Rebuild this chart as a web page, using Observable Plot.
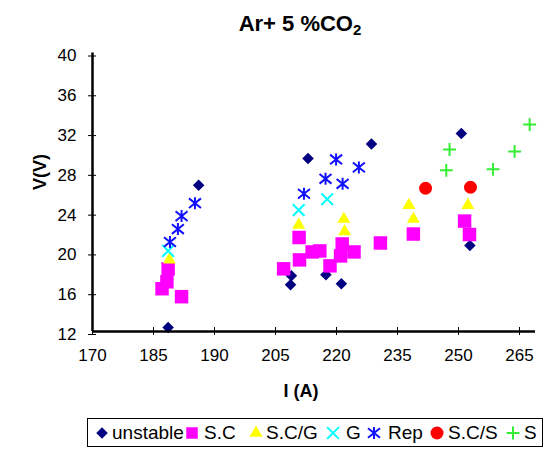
<!DOCTYPE html>
<html>
<head>
<meta charset="utf-8">
<script src="https://cdn.jsdelivr.net/npm/d3@7"></script>
<script src="https://cdn.jsdelivr.net/npm/@observablehq/plot@0.6"></script>
<style>
  html, body { margin: 0; padding: 0; background: #fff; }
  #chart { position: relative; width: 549px; height: 451px; font-family: "Liberation Sans", Arial, sans-serif; color: #000; }
  #title { position: absolute; left: 0; top: 11px; width: 600px; text-align: center; font-weight: bold; font-size: 22px; }
  #plot { position: absolute; left: 0; top: 40px; }
  #ylab { position: absolute; left: 40px; top: 172px; font-weight: bold; font-size: 18px; transform: translate(-50%, -50%) rotate(-90deg); white-space: nowrap; }
  #xlab { position: absolute; left: 301px; top: 381px; font-weight: bold; font-size: 18px; transform: translateX(-50%); white-space: nowrap; }
  #legend { position: absolute; left: 87px; top: 418px; width: 456px; height: 29px; border: 1px solid #000; box-sizing: border-box; }
  .li { position: absolute; top: 0; height: 27px; line-height: 27px; font-size: 19px; white-space: nowrap; }
  .ls { position: absolute; top: 6px; }
</style>
</head>
<body>
<div id="chart">
  <div id="title">Ar+ 5 %CO<sub style="font-size:15px;vertical-align:-4px">2</sub></div>
  <div id="plot"></div>
  <div id="ylab">V(V)</div>
  <div id="xlab">I (A)</div>
  <div id="legend"></div>
</div>
<script>
// ---- data (I in A, V in V) ----
const xTicks = [170, 185, 190, 205, 220, 235, 250, 265];
const yTicks = [12, 16, 20, 24, 28, 32, 36, 40];

const unstableI = [188.7, 186.2, 213.0, 228.6, 208.9, 208.7, 217.4, 221.2, 250.7, 252.8];
const unstableV = [26.7, 12.4, 29.4, 30.85, 17.6, 16.7, 17.7, 16.8, 31.9, 20.65];

const scI = [186.2, 186.1, 185.7, 187.3, 210.8, 210.9, 207.0, 214.0, 215.9, 218.4, 221.4, 221.0, 224.3, 230.8, 238.9, 251.5, 252.7];
const scV = [18.3, 17.0, 16.3, 15.5, 21.45, 19.2, 18.3, 20.0, 20.1, 18.6, 20.8, 19.6, 20.0, 20.9, 21.8, 23.1, 21.75];

const scgI = [186.3, 210.7, 221.8, 222.0, 237.8, 238.9, 252.3];
const scgV = [19.2, 22.7, 23.3, 22.05, 24.7, 23.3, 24.7];

const gI = [186.2, 210.7, 217.7];
const gV = [20.1, 24.2, 25.3];

const repI = [188.4, 187.3, 187.0, 186.35, 219.9, 225.5, 217.3, 221.5, 212.0];
const repV = [24.9, 23.6, 22.3, 21.0, 29.3, 28.5, 27.35, 26.85, 25.85];

const scsI = [241.9, 252.95];
const scsV = [26.4, 26.5];

const sI = [247.8, 247.0, 258.5, 263.8, 267.5];
const sV = [30.3, 28.2, 28.3, 30.1, 32.8];

const seriesNames = ["unstable", "S.C", "S.C/G", "G", "Rep", "S.C/S", "S"];

// ---- build table ----
const zip = (I, V, name) => I.map((x, i) => ({I: x, V: V[i], series: name}));
const groups = [
  zip(unstableI, unstableV, "unstable"),
  zip(scI, scV, "S.C"),
  zip(scgI, scgV, "S.C/G"),
  zip(gI, gV, "G"),
  zip(repI, repV, "Rep"),
  zip(scsI, scsV, "S.C/S"),
  zip(sI, sV, "S")
];

// custom asterisk (vertical bar + X)
const asteriskX = {
  draw(ctx, size) {
    const r = Math.sqrt(size / Math.PI);
    ctx.moveTo(0, -r); ctx.lineTo(0, r);
    ctx.moveTo(-r, -r * 0.8); ctx.lineTo(r, r * 0.8);
    ctx.moveTo(-r, r * 0.8); ctx.lineTo(r, -r * 0.8);
  }
};

const styles = {
  "unstable": {symbol: "diamond2", fill: "#000080", stroke: "none", r: 5.2},
  "S.C":      {symbol: "square", fill: "#ff00ff", stroke: "none", r: 7.6},
  "S.C/G":    {symbol: "triangle", fill: "#ffff00", stroke: "none", r: 4.8},
  "G":        {symbol: "times", fill: "none", stroke: "#00ffff", r: 5.4, strokeWidth: 2},
  "Rep":      {symbol: asteriskX, fill: "none", stroke: "#1010ff", r: 6, strokeWidth: 2},
  "S.C/S":    {symbol: "circle", fill: "#ff0000", stroke: "none", r: 6.5},
  "S":        {symbol: "plus", fill: "none", stroke: "#33ee33", r: 4.2, strokeWidth: 2}
};

// ---- layout ----
const W = 549, H = 370;
const x0px = 92, stepPx = 61, xEndPx = 535;
const xEnd = 265 + (xEndPx - (x0px + 7 * stepPx)) * 15 / stepPx;
const xDomain = [...xTicks, xEnd];
const xRange = [...xTicks.map((_, i) => x0px + i * stepPx), xEndPx];

const chart = Plot.plot({
  width: W, height: H,
  marginLeft: x0px, marginRight: W - xEndPx, marginTop: 12.5, marginBottom: 79,
  style: {fontFamily: '"Liberation Sans", Arial, sans-serif', background: "#fff", color: "#000"},
  x: {type: "linear", domain: xDomain, range: xRange},
  y: {domain: [12, 40]},
  marks: [
    Plot.axisY({ticks: yTicks, tickSize: 8, dx: 4, tickPadding: 12, dy: 3, fontSize: 17, label: null, tickFormat: d => String(d)}),
    Plot.axisX({ticks: xTicks, tickSize: 8, dy: -4, tickPadding: 13, fontSize: 17, label: null, tickFormat: d => String(d)}),
    ...groups.map((g, k) => {
      const st = styles[seriesNames[k]];
      return Plot.dot(g, {x: "I", y: "V", symbol: st.symbol, r: st.r,
        fill: st.fill, stroke: st.stroke, strokeWidth: st.strokeWidth || 1});
    }),
    Plot.ruleX([170], {strokeWidth: 2.5, stroke: "#000"}),
    Plot.ruleY([12], {strokeWidth: 2.5, stroke: "#000"})
  ]
});
document.getElementById("plot").appendChild(chart);

// ---- legend ----
const legendPos = [
  {sx: 14, tx: 24}, {sx: 104, tx: 116}, {sx: 168, tx: 178}, {sx: 245, tx: 258},
  {sx: 286, tx: 300}, {sx: 349, tx: 360}, {sx: 425, tx: 436}
];
const legend = document.getElementById("legend");
seriesNames.forEach((name, k) => {
  const st = styles[name];
  const p = legendPos[k];
  const svg = d3.create("svg").attr("class", "ls").attr("width", 16).attr("height", 16)
    .style("left", (p.sx - 8) + "px");
  const sym = typeof st.symbol === "string"
    ? ({diamond2: d3.symbolDiamond2, square: d3.symbolSquare, triangle: d3.symbolTriangle, times: d3.symbolTimes, circle: d3.symbolCircle, plus: d3.symbolPlus})[st.symbol]
    : st.symbol;
  svg.append("path").attr("transform", "translate(8,8)")
    .attr("d", d3.symbol(sym, Math.PI * Math.min(st.r, 6.5) * Math.min(st.r, 6.5))())
    .attr("fill", st.fill).attr("stroke", st.stroke).attr("stroke-width", st.strokeWidth || 1);
  legend.appendChild(svg.node());
  const t = document.createElement("div");
  t.className = "li"; t.style.left = p.tx + "px"; t.textContent = name;
  legend.appendChild(t);
});
</script>
</body>
</html>
